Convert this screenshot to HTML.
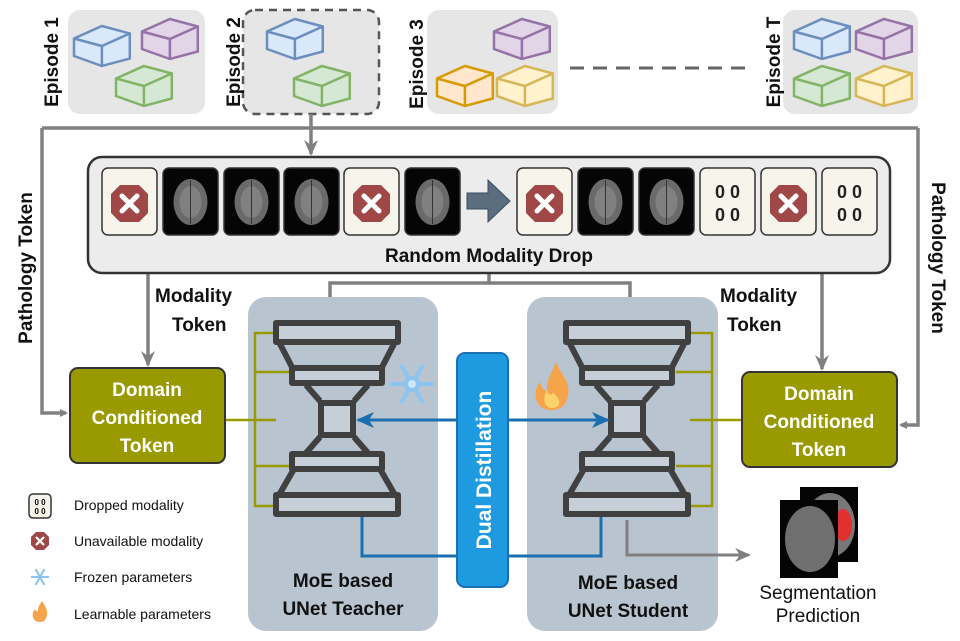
<!DOCTYPE html>
<html><head><meta charset="utf-8"><style>
body{margin:0;background:#fff}
svg{display:block;font-family:"Liberation Sans",Arial,sans-serif}
</style></head><body>
<svg width="960" height="641" viewBox="0 0 960 641">
<defs>
<marker id="ag" markerWidth="8" markerHeight="8" refX="6" refY="4" orient="auto" markerUnits="userSpaceOnUse"><path d="M0,0 L8,4 L0,8 Z" fill="#808080"/></marker>
<marker id="agl" markerWidth="16" markerHeight="14" refX="14" refY="7" orient="auto" markerUnits="userSpaceOnUse"><path d="M0,0 L16,7 L0,14 L5,7 Z" fill="#808080"/></marker>
<marker id="ab" markerWidth="18" markerHeight="16" refX="16" refY="8" orient="auto" markerUnits="userSpaceOnUse"><path d="M0,0 L18,8 L0,16 L5,8 Z" fill="#1a6fb0"/></marker>
<g id="cube">
<path d="M0,10 L18,0 L36,6 L36,26 L18,32 L0,24 Z" stroke-width="2.5" vector-effect="non-scaling-stroke"/>
<path d="M0,10 L18,16 L36,6 M18,16 L18,32" fill="none" stroke-width="2.5" vector-effect="non-scaling-stroke"/>
</g>
<g id="stop"><rect x="0" y="0" width="55" height="67" rx="6" fill="#f7f4ec" stroke="#333" stroke-width="1.5"/><polygon points="18,17 37,17 46,26 46,45 37,54 18,54 9,45 9,26" fill="#a04848"/><path d="M20,28 L35,43 M35,28 L20,43" stroke="#fff" stroke-width="5" stroke-linecap="round"/></g>
<g id="brain"><rect x="0" y="0" width="55" height="67" rx="6" fill="#050505" stroke="#333" stroke-width="1.5"/><ellipse cx="27.5" cy="34" rx="17" ry="23" fill="#6a6a6a"/><ellipse cx="27.5" cy="34" rx="11" ry="16" fill="#8a8a8a" opacity=".7"/><path d="M27.5,12 V56" stroke="#333" stroke-width="1"/></g>
<g id="zero"><rect x="0" y="0" width="55" height="67" rx="6" fill="#f7f4ec" stroke="#333" stroke-width="1.5"/><text x="27.5" y="30" font-size="18" font-weight="bold" text-anchor="middle" fill="#222">0 0</text><text x="27.5" y="53" font-size="18" font-weight="bold" text-anchor="middle" fill="#222">0 0</text></g>
<g id="unet" fill="none" stroke="#404040" stroke-width="6" stroke-linejoin="round">
<rect x="0" y="0" width="122" height="19" fill="#c6cfd8"/>
<path d="M3,19 L18,48 M119,19 L104,48"/>
<rect x="16" y="45" width="90" height="15" fill="#c6cfd8"/>
<path d="M30,62 L44,78 M92,62 L78,78"/>
<rect x="45" y="80" width="32" height="32" fill="#c6cfd8"/>
<path d="M44,114 L30,130 M78,114 L92,130"/>
<rect x="16" y="131" width="90" height="15" fill="#c6cfd8"/>
<path d="M18,146 L3,172 M104,146 L119,172"/>
<rect x="0" y="172" width="122" height="19" fill="#c6cfd8"/>
</g>
</defs>

<!-- Episodes -->
<rect x="68" y="10" width="137" height="104" rx="12" fill="#e6e6e6"/>
<g fill="#dae8fc" stroke="#6c8ebf"><use href="#cube" transform="translate(74,26) scale(1.55,1.25)"/></g>
<g fill="#e1d5e7" stroke="#9673a6"><use href="#cube" transform="translate(142,19) scale(1.55,1.25)"/></g>
<g fill="#d5e8d4" stroke="#82b366"><use href="#cube" transform="translate(116,66) scale(1.55,1.25)"/></g>
<rect x="243" y="10" width="136" height="104" rx="12" fill="#e6e6e6" stroke="#555" stroke-width="2.5" stroke-dasharray="8,6"/>
<g fill="#dae8fc" stroke="#6c8ebf"><use href="#cube" transform="translate(267,19) scale(1.55,1.25)"/></g>
<g fill="#d5e8d4" stroke="#82b366"><use href="#cube" transform="translate(294,66) scale(1.55,1.25)"/></g>
<rect x="427" y="10" width="131" height="104" rx="12" fill="#e6e6e6"/>
<g fill="#e1d5e7" stroke="#9673a6"><use href="#cube" transform="translate(494,19) scale(1.55,1.25)"/></g>
<g fill="#ffe6cc" stroke="#d79b00"><use href="#cube" transform="translate(437,66) scale(1.55,1.25)"/></g>
<g fill="#fff2cc" stroke="#d6b656"><use href="#cube" transform="translate(497,66) scale(1.55,1.25)"/></g>
<path d="M570,68 H748" stroke="#666" stroke-width="3" stroke-dasharray="14,9"/>
<rect x="783" y="10" width="135" height="104" rx="12" fill="#e6e6e6"/>
<g fill="#dae8fc" stroke="#6c8ebf"><use href="#cube" transform="translate(794,19) scale(1.55,1.25)"/></g>
<g fill="#e1d5e7" stroke="#9673a6"><use href="#cube" transform="translate(856,19) scale(1.55,1.25)"/></g>
<g fill="#d5e8d4" stroke="#82b366"><use href="#cube" transform="translate(794,66) scale(1.55,1.25)"/></g>
<g fill="#fff2cc" stroke="#d6b656"><use href="#cube" transform="translate(856,66) scale(1.55,1.25)"/></g>
<g font-size="19" font-weight="bold" fill="#111">
<text transform="translate(58,62) rotate(-90)" text-anchor="middle">Episode 1</text>
<text transform="translate(240,62) rotate(-90)" text-anchor="middle">Episode 2</text>
<text transform="translate(423,64) rotate(-90)" text-anchor="middle">Episode 3</text>
<text transform="translate(780,62) rotate(-90)" text-anchor="middle">Episode T</text>
</g>

<!-- gray frame -->
<g stroke="#808080" stroke-width="3.5" fill="none">
<path d="M42,128 H918"/>
<path d="M42,128 V413 H66" marker-end="url(#ag)"/>
<path d="M918,128 V425 H901" marker-end="url(#ag)"/>
<path d="M311,114 V154" marker-end="url(#agl)"/>
<path d="M148,273 V365" marker-end="url(#agl)"/>
<path d="M822,273 V369" marker-end="url(#agl)"/>
<path d="M489,273 V283 H330 V312" marker-end="url(#agl)"/>
<path d="M489,283 H630 V312" marker-end="url(#agl)"/>
</g>
<g font-size="19" font-weight="bold" fill="#111">
<text transform="translate(32,268) rotate(-90)" text-anchor="middle">Pathology Token</text>
<text transform="translate(932,258) rotate(90)" text-anchor="middle">Pathology Token</text>
<text x="155" y="302">Modality</text><text x="172" y="331">Token</text>
<text x="720" y="302">Modality</text><text x="727" y="331">Token</text>
</g>

<!-- Random Modality Drop -->
<rect x="88" y="157" width="802" height="116" rx="14" fill="#ececec" stroke="#333" stroke-width="2.5"/>
<use href="#stop" x="102" y="168"/>
<use href="#brain" x="163" y="168"/>
<use href="#brain" x="224" y="168"/>
<use href="#brain" x="284" y="168"/>
<use href="#stop" x="344" y="168"/>
<use href="#brain" x="405" y="168"/>
<path d="M467,193 H488 V180 L510,201 L488,222 V209 H467 Z" fill="#5a6e80" stroke="#3a4c5c" stroke-width="1"/>
<use href="#stop" x="517" y="168"/>
<use href="#brain" x="578" y="168"/>
<use href="#brain" x="639" y="168"/>
<use href="#zero" x="700" y="168"/>
<use href="#stop" x="761" y="168"/>
<use href="#zero" x="822" y="168"/>
<text x="489" y="262" font-size="19" font-weight="bold" text-anchor="middle" fill="#111">Random Modality Drop</text>

<!-- panels -->
<rect x="248" y="297" width="190" height="334" rx="18" fill="#b8c4d0"/>
<rect x="527" y="297" width="191" height="334" rx="18" fill="#b8c4d0"/>

<!-- olive lines -->
<g stroke="#9a9a00" stroke-width="2.5" fill="none">
<path d="M225,420 H276"/>
<path d="M276,333 H255 V506 H276 M255,372 H290 M255,466 H290"/>
<path d="M742,420 H690"/>
<path d="M690,333 H712 V506 H690 M712,372 H676 M712,466 H676"/>
</g>
<use href="#unet" x="276" y="323"/>
<use href="#unet" x="566" y="323"/>

<!-- domain tokens -->
<rect x="70" y="368" width="155" height="95" rx="8" fill="#999900" stroke="#333" stroke-width="2"/>
<text x="147" y="396" font-size="19" font-weight="bold" fill="#fff" text-anchor="middle">Domain</text>
<text x="147" y="424" font-size="19" font-weight="bold" fill="#fff" text-anchor="middle">Conditioned</text>
<text x="147" y="452" font-size="19" font-weight="bold" fill="#fff" text-anchor="middle">Token</text>
<rect x="742" y="372" width="155" height="95" rx="8" fill="#999900" stroke="#333" stroke-width="2"/>
<text x="819" y="400" font-size="19" font-weight="bold" fill="#fff" text-anchor="middle">Domain</text>
<text x="819" y="428" font-size="19" font-weight="bold" fill="#fff" text-anchor="middle">Conditioned</text>
<text x="819" y="456" font-size="19" font-weight="bold" fill="#fff" text-anchor="middle">Token</text>

<!-- blue -->
<g stroke="#1a6fb0" stroke-width="3" fill="none">
<path d="M457,420 H358" marker-end="url(#ab)"/>
<path d="M508,420 H608" marker-end="url(#ab)"/>
<path d="M362,517 V556 H457"/>
<path d="M601,517 V556 H508"/>
</g>
<rect x="457" y="353" width="51" height="234" rx="8" fill="#1e9be0" stroke="#1a6fb0" stroke-width="2"/>
<text transform="translate(491,470) rotate(-90)" font-size="21" font-weight="bold" fill="#fff" text-anchor="middle">Dual Distillation</text>

<!-- snowflake & fire -->
<g stroke="#8ec5f0" stroke-width="4" fill="none" transform="translate(412,384)">
<path d="M-22,0 H22 M-11,-19 L11,19 M11,-19 L-11,19"/>
<circle r="6" fill="#cde6fa"/>
</g>
<g transform="translate(552,388)">
<path d="M0,22 C-18,22 -20,4 -12,-6 C-10,2 -6,4 -5,2 C-6,-10 2,-18 4,-26 C8,-16 14,-10 16,-2 C18,8 14,22 0,22 Z" fill="#f5a44a"/>
<path d="M0,20 C-8,20 -10,10 -5,2 C-3,8 0,8 1,4 C4,8 9,12 7,16 C6,19 3,20 0,20 Z" fill="#fbd36a"/>
</g>

<!-- output -->
<path d="M627,520 V555 H749" stroke="#808080" stroke-width="3" fill="none" marker-end="url(#agl)"/>
<rect x="800" y="487" width="58" height="75" fill="#050505"/>
<ellipse cx="830" cy="525" rx="25" ry="32" fill="#777"/>
<ellipse cx="843" cy="525" rx="9" ry="16" fill="#e03030"/>
<rect x="780" y="500" width="58" height="78" fill="#050505"/>
<ellipse cx="810" cy="539" rx="25" ry="33" fill="#6f6f6f"/>
<text x="818" y="599" font-size="19" text-anchor="middle" fill="#111">Segmentation</text>
<text x="818" y="622" font-size="19" text-anchor="middle" fill="#111">Prediction</text>

<text x="343" y="587" font-size="19" font-weight="bold" text-anchor="middle" fill="#111">MoE based</text>
<text x="343" y="615" font-size="19" font-weight="bold" text-anchor="middle" fill="#111">UNet Teacher</text>
<text x="628" y="589" font-size="19" font-weight="bold" text-anchor="middle" fill="#111">MoE based</text>
<text x="628" y="617" font-size="19" font-weight="bold" text-anchor="middle" fill="#111">UNet Student</text>

<!-- legend -->
<rect x="29" y="494" width="22" height="24" rx="4" fill="#f7f4ec" stroke="#333" stroke-width="1.5"/>
<text x="40" y="505" font-size="8" font-weight="bold" text-anchor="middle">0 0</text>
<text x="40" y="514" font-size="8" font-weight="bold" text-anchor="middle">0 0</text>
<polygon points="36,532 44,532 49,537 49,545 44,550 36,550 31,545 31,537" fill="#a04848"/>
<path d="M36,537 L44,545 M44,537 L36,545" stroke="#fff" stroke-width="2.2"/>
<g stroke="#8ec5f0" stroke-width="2" transform="translate(40,577)"><path d="M-9,0 H9 M-4.5,-8 L4.5,8 M4.5,-8 L-4.5,8"/></g>
<path d="M40,622 C32,622 31,614 35,609 C36,612 38,612 38,610 C38,606 41,603 42,601 C45,606 48,610 47,615 C46,620 44,622 40,622 Z" fill="#f5a44a"/>
<g font-size="14" fill="#111">
<text x="74" y="510">Dropped modality</text>
<text x="74" y="546">Unavailable modality</text>
<text x="74" y="582">Frozen parameters</text>
<text x="74" y="619">Learnable parameters</text>
</g>
</svg>
</body></html>
